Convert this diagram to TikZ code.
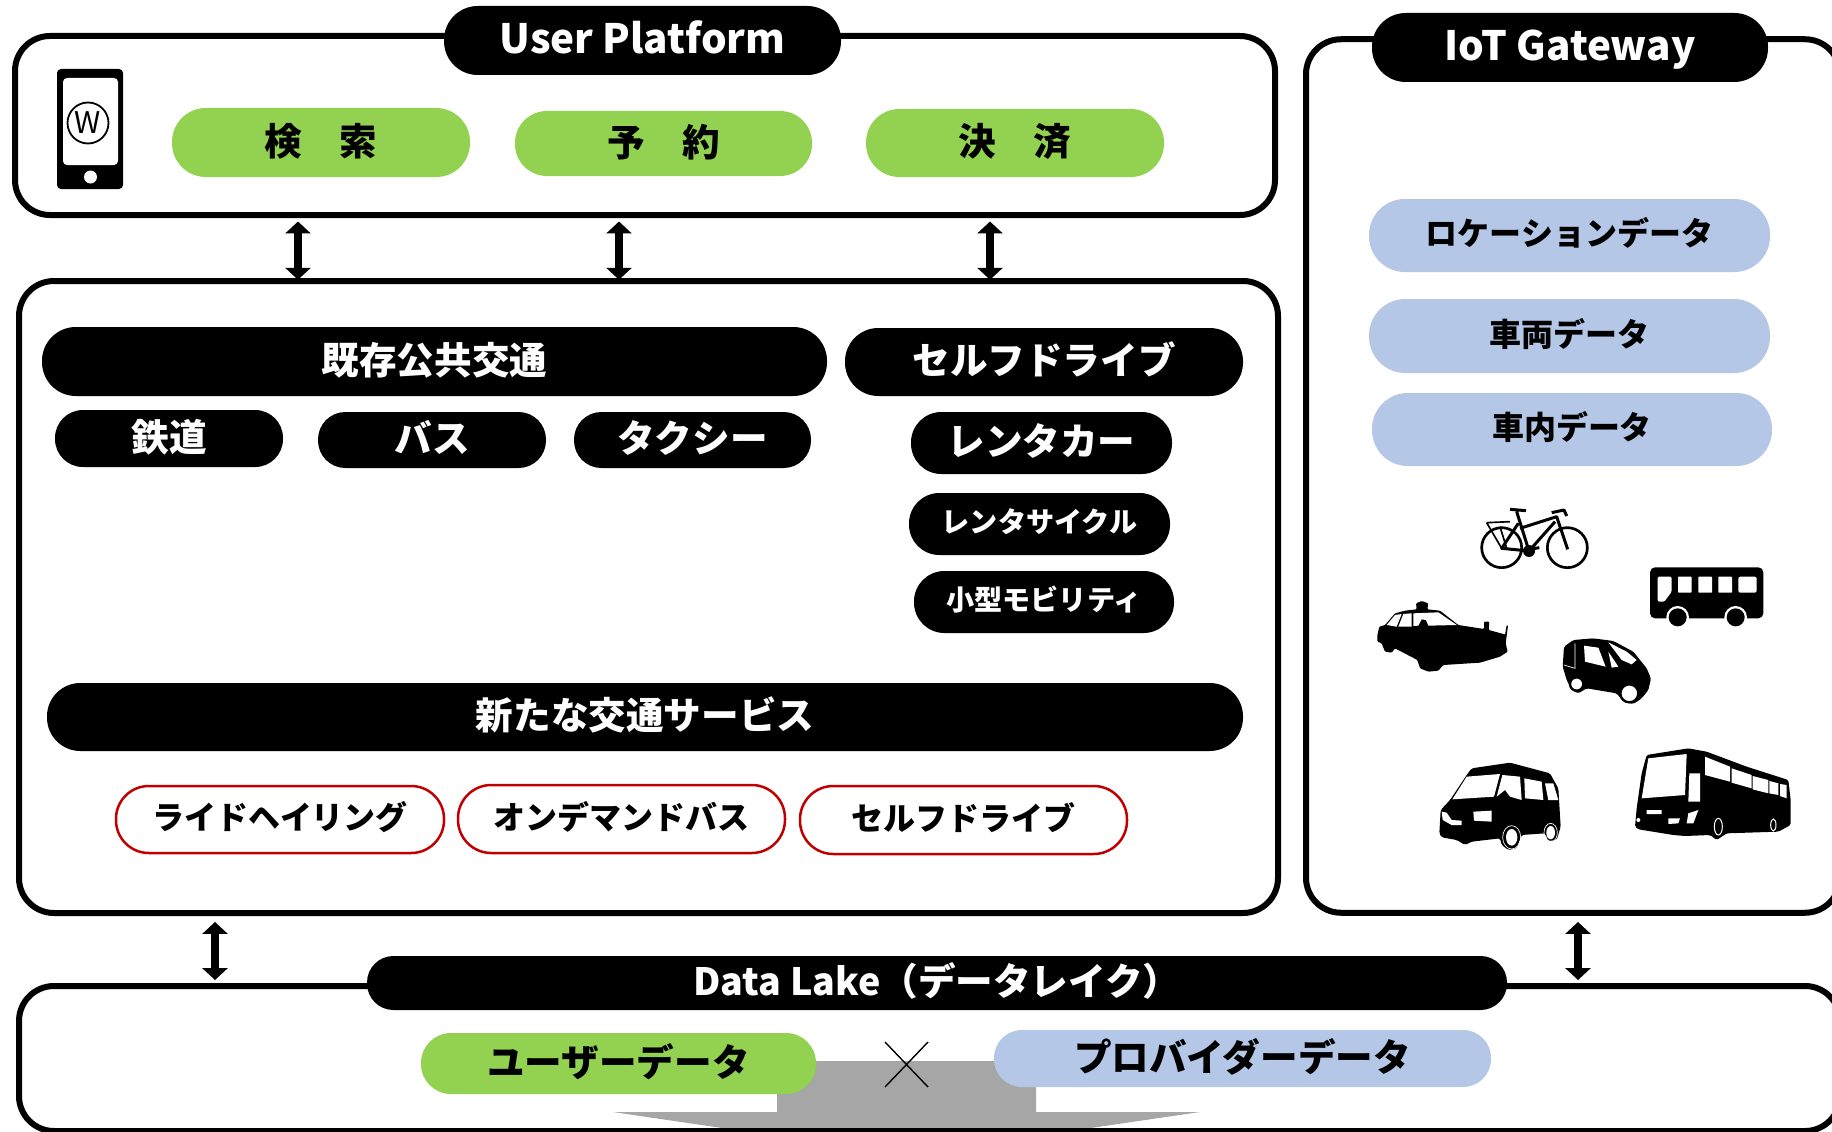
\documentclass[tikz,border=0pt]{standalone}
\usepackage{fontspec}
\setmainfont{Noto Sans CJK JP}
\usetikzlibrary{arrows.meta}
\definecolor{limegreen}{HTML}{92D250}
\definecolor{paleblue}{HTML}{B4C7E7}
\definecolor{darkred}{HTML}{C00000}
\definecolor{arrowgrey}{HTML}{A6A6A6}
\def\u{0.02cm}
\begin{document}
\begin{tikzpicture}[x=0.02cm,y=-0.02cm,
    frame/.style 2 args={draw,line width=6*\u,rounded corners=35*\u,inner sep=0,
        minimum width=#1*\u,minimum height=#2*\u},
    pill/.style 2 args={rounded corners=0.49*#2*\u,inner sep=0,text=white,
        minimum width=#1*\u,minimum height=#2*\u},
    black pill/.style 2 args={pill={#1}{#2},fill=black},
    green pill/.style 2 args={pill={#1}{#2},fill=limegreen,text=black},
    blue pill/.style 2 args={pill={#1}{#2},fill=paleblue,text=black},
    red pill/.style 2 args={pill={#1}{#2},draw=darkred,line width=2.5*\u,text=black},
    big/.style={font=\fontsize{21.4}{25}\selectfont\bfseries,text height=18.5pt,text depth=4.2pt},
    mid/.style={font=\fontsize{18.2}{21}\selectfont\bfseries,text height=15.5pt,text depth=3.8pt},
    small/.style={font=\fontsize{16}{19}\selectfont\bfseries,text height=13.6pt,text depth=3.4pt},
    headline/.style={font=\fontsize{23}{28}\selectfont\bfseries,text height=21pt,text depth=6.2pt},
    updown/.style={{Triangle[width=14.2pt,length=6.8pt]}-{Triangle[width=14.2pt,length=6.8pt]},line width=7.5*\u},
]
\useasboundingbox (0,0) rectangle (1832,1132);
\clip (0,0) rectangle (1832,1132);

% Grey arrow behind the data lake
\fill[arrowgrey] (777,1061) -- (1036,1061) -- (1036,1112) -- (1200,1112)
    -- (906,1155) -- (613,1112) -- (777,1112) -- cycle;

% Frames
\node[frame={1260}{179}] (platform) at (645,125.5) {};
\node[frame={1259}{632}] (core) at (648.5,597) {};
\node[frame={534}{873.5}] (gateway) at (1573,476) {};
\node[frame={1821}{145}] (lake) at (929.5,1058.5) {};

% Headers
\node[black pill={397}{69},headline] (platformtitle) at (642.5,40.5) {User Platform};
\node[black pill={396}{69},headline] (gatewaytitle) at (1570,47.5) {IoT Gateway};
\node[black pill={1140}{54},big] (laketitle) at (937,983) {Data Lake（データレイク）};

% User platform
\node[green pill={298}{69},big] (search) at (321,142.5) {検　索};
\node[green pill={297}{65},big] (booking) at (663.5,143.5) {予　約};
\node[green pill={298}{68},big] (payment) at (1015,143) {決　済};

% Phone
\fill[rounded corners=4*\u] (57,69) rectangle (123,189);
\fill[white,rounded corners=4*\u] (63,78) rectangle (118,165);
\fill[white] (90.5,177) circle (6.5);
\node[draw,circle,line width=1.8*\u,inner sep=0,minimum size=41*\u,font=\fontsize{17}{17}\selectfont] (logo) at (88,123) {W};

% Existing services
\node[black pill={785}{69},big] (transit) at (434.5,361.5) {既存公共交通};
\node[black pill={398}{68},big] (selfdrive) at (1044,362) {セルフドライブ};
\node[black pill={228}{57},big] (rail) at (169,438.5) {鉄道};
\node[black pill={228}{56},big] (bus) at (432,440) {バス};
\node[black pill={237}{56},big] (taxi) at (692.5,440) {タクシー};
\node[black pill={261}{62},big] (rentacar) at (1041.5,443) {レンタカー};
\node[black pill={261}{62},small] (rentacycle) at (1039.5,524) {レンタサイクル};
\node[black pill={260}{62},small] (minimobility) at (1044,602) {小型モビリティ};

% New services
\node[black pill={1196}{68},big] (newservice) at (645,717) {新たな交通サービス};
\node[red pill={328}{67},mid] (ridehailing) at (280,819.5) {ライドヘイリング};
\node[red pill={327}{68},mid] (ondemand) at (621.5,819) {オンデマンドバス};
\node[red pill={327}{68},mid] (selfdrivenew) at (963.5,820) {セルフドライブ};

% Gateway data
\node[blue pill={401}{73},mid] (location) at (1569.5,235.5) {ロケーションデータ};
\node[blue pill={401}{74},mid] (vehicle) at (1569.5,336) {車両データ};
\node[blue pill={400}{73},mid] (cabin) at (1572,429.5) {車内データ};

% Lake contents
\node[green pill={395}{61},big] (userdata) at (618.5,1063.5) {ユーザーデータ};
\node[blue pill={497}{57},big] (providerdata) at (1242.5,1058.5) {プロバイダーデータ};
\draw[line width=1.4*\u] (885,1042) -- (928,1087) (928,1042) -- (885,1087);

% Arrows
\foreach \x in {298,619,990} {
    \coordinate (upper) at (\x,0);
    \draw[updown,shorten <=2pt,shorten >=-1pt] (upper |- platform.south) -- (upper |- core.north);
}
\foreach \x in {215,1578} {
    \coordinate (lower) at (\x,0);
    \draw[updown,shorten <=3.4pt,shorten >=1.7pt] (lower |- core.south) -- (lower |- lake.north);
}

% Vehicles
\begin{scope}[shift={(1340,480)},scale=1/3]
    % Bicycle
    \draw[line width=8*\u/3] (485,203) circle (60) (682,203) circle (60);
    \fill (567,213) circle (18);
    \draw[line width=9*\u/3,line join=round]
        (530,95) -- (567,213) -- (645,125) (540,145) -- (650,110) -- (683,208)
        (567,213) -- (485,205) -- (535,130) (510,88) -- (558,92)
        (635,98) -- (672,90) -- (680,108) (567,208) -- (598,203);
    \draw[line width=5*\u/3] (440,128) -- (510,125) (440,128) -- (485,205) (480,140) -- (500,205);
    % Small bus
    \fill[rounded corners=15*\u/3] (930,262) rectangle (1270,415);
    \fill[white,rounded corners=4*\u/3] (953,290) -- (995,290) -- (995,335) -- (973,365) -- (953,365) -- cycle;
    \foreach \x in {1014,1075,1135} {
        \fill[white,rounded corners=2*\u/3] (\x,290) rectangle ++(41,48);
    }
    \fill[white,rounded corners=6*\u/3] (1195,290) rectangle (1250,338);
    \foreach \x in {1013,1187} {
        \fill[white] (\x,412) circle (34);
        \fill (\x,412) circle (27);
    }
    % Taxi
    \fill[rounded corners=3*\u/3] (112,465) -- (118,440) -- (135,435) -- (165,400) -- (195,392)
        -- (230,388) -- (228,370) -- (245,363) -- (265,370) -- (262,388) -- (300,392) -- (355,435)
        -- (432,447) -- (432,425) -- (448,425) -- (446,450) -- (490,462) -- (495,465) -- (500,435) -- (504,437)
        -- (497,490) -- (503,515) -- (480,530) -- (420,548) -- (310,555) -- (295,572) -- (265,575)
        -- (240,565) -- (232,540) -- (165,505) -- (155,518) -- (135,515) -- (125,490) -- (112,485) -- cycle;
    \fill[white] (140,435) -- (165,405) -- (185,402) -- (170,440) -- cycle
        (175,440) -- (190,402) -- (215,400) -- (215,440) -- cycle
        (220,400) -- (295,397) -- (350,435) -- (265,437) -- (258,420) -- (245,418) -- (235,437) -- (220,438) -- cycle;
    % Small car
    \fill[rounded corners=5*\u/3] (672,500) -- (700,480) -- (760,475) -- (820,483) -- (880,515)
        -- (920,565) -- (933,595) -- (925,630) -- (905,655) -- (880,672) -- (850,665) -- (830,640)
        -- (740,625) -- (715,640) -- (695,630) -- (680,600) -- (668,560) -- cycle;
    \fill[white] (732,497) -- (775,503) -- (797,560) -- (735,545) -- cycle
        (805,487) -- (860,515) -- (890,540) -- (875,553) -- (845,540) -- cycle
        (805,515) -- (835,560) -- (815,563) -- cycle;
    \draw[white,line width=2*\u/3] (705,490) -- (705,565) -- (672,555);
    \fill[white] (868,640) circle (27) (710,612) circle (20);
    \draw[line width=7*\u/3] (868,640) circle (27) (710,612) circle (20);
    % Van
    \fill[rounded corners=5*\u/3] (298,1060) -- (302,990) -- (330,960) -- (380,885) -- (395,865) -- (510,848)
        -- (630,880) -- (655,925) -- (662,1040) -- (650,1080) -- (625,1083) -- (615,1060) -- (545,1065)
        -- (530,1105) -- (505,1110) -- (485,1095) -- (480,1075) -- (395,1085) -- (375,1095) -- (350,1080)
        -- (305,1072) -- cycle;
    \fill[white] (337,958) -- (380,890) -- (480,882) -- (462,950) -- cycle
        (487,885) -- (540,890) -- (545,960) -- (510,950) -- (495,930) -- (470,950) -- cycle
        (553,895) -- (605,905) -- (610,960) -- (555,955) -- cycle
        (615,910) -- (640,910) -- (655,960) -- (625,960) -- cycle
        (305,995) -- (320,998) -- (335,1020) -- (365,1022) -- (365,1035) -- (335,1035) -- (308,1020) -- cycle
        (400,995) -- (455,992) -- (455,1025) -- (402,1022) -- cycle;
    \fill[white] (515,1072) ellipse (17 and 25) (632,1058) ellipse (13 and 20);
    \draw[white,line width=2*\u/3] (515,1072) ellipse (27 and 35) (632,1058) ellipse (20 and 28);
    % Coach
    \fill[rounded corners=5*\u/3] (885,1040) -- (890,985) -- (905,880) -- (920,825) -- (1045,805) -- (1100,815)
        -- (1220,860) -- (1345,900) -- (1352,960) -- (1352,1035) -- (1315,1055) -- (1160,1060) -- (1130,1080)
        -- (1110,1065) -- (1035,1068) -- (1000,1065) -- (895,1048) -- cycle;
    \fill[white] (925,835) -- (1040,822) -- (1035,945) -- (905,955) -- cycle
        (1048,880) -- (1080,880) -- (1080,965) -- (1045,965) -- cycle
        (1095,830) -- (1170,860) -- (1170,905) -- (1095,885) -- cycle
        (1175,865) -- (1235,885) -- (1235,925) -- (1175,908) -- cycle
        (1238,888) -- (1285,900) -- (1285,940) -- (1238,928) -- cycle
        (1288,903) -- (1315,910) -- (1315,945) -- (1288,940) -- cycle
        (1320,912) -- (1340,915) -- (1340,955) -- (1320,948) -- cycle
        (920,990) -- (965,990) -- (965,1002) -- (920,1002) -- cycle
        (985,1015) -- (1020,1015) -- (1015,1030) -- (985,1032) -- cycle
        (1045,1000) -- (1075,990) -- (1060,1030) -- (1040,1030) -- cycle
        (895,1020) circle (6);
    \draw[white,line width=3*\u/3] (1135,1040) ellipse (12 and 25) (1300,1035) ellipse (8 and 18);
\end{scope}
\end{tikzpicture}
\end{document}
